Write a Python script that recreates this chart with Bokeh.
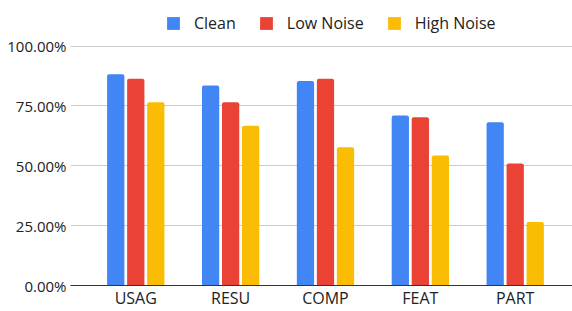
from bokeh.plotting import figure
from bokeh.models import (ColumnDataSource, Range1d, FixedTicker, NumeralTickFormatter,
                          Legend, LegendItem)
from bokeh.transform import dodge
from bokeh.embed import file_html
from bokeh.resources import INLINE

categories = ["USAG", "RESU", "COMP", "FEAT", "PART"]
clean = [0.882, 0.835, 0.854, 0.710, 0.682]
low_noise = [0.863, 0.765, 0.863, 0.703, 0.509]
high_noise = [0.765, 0.667, 0.577, 0.543, 0.265]
series_names = ["Clean", "Low Noise", "High Noise"]
colors = ["#4285F4", "#EA4335", "#FBBC04"]
y_ticks = [0, 0.25, 0.5, 0.75, 1.0]

idx = list(range(len(categories)))
src = ColumnDataSource(dict(x=idx, clean=clean, low=low_noise, high=high_noise))

# frame spans the full height; the empty band above 100% holds the legend
p = figure(width=572, height=311, output_backend="svg", toolbar_location=None,
           x_range=Range1d(-0.688, 4.604), y_range=Range1d(0, 1.19),
           min_border_left=70, min_border_right=0, min_border_top=0, min_border_bottom=20)
p.outline_line_color = None
p.background_fill_color = "white"

bw = 0.182
off = 0.211
renderers = []
for field, o, c in zip(["clean", "low", "high"], [-off, 0, off], colors):
    r = p.vbar(x=dodge("x", o, range=p.x_range), top=field, width=bw, source=src,
               fill_color=c, line_color=None, border_radius=(2, 2, 0, 0))
    renderers.append(r)

p.xaxis.ticker = FixedTicker(ticks=idx)
p.xaxis.major_label_overrides = {i: c for i, c in zip(idx, categories)}
p.xaxis.major_tick_line_color = None
p.xaxis.major_tick_out = 0
p.xaxis.major_tick_in = 0
p.xaxis.minor_tick_line_color = None
p.xaxis.axis_line_color = "#333333"
p.xaxis.major_label_text_font = "Open Sans"
p.xaxis.major_label_text_font_size = "16px"
p.xaxis.major_label_text_color = "#222222"
p.xaxis.major_label_standoff = 1
p.xgrid.grid_line_color = None

p.yaxis.ticker = FixedTicker(ticks=y_ticks)
p.yaxis.formatter = NumeralTickFormatter(format="0.00%")
p.yaxis.axis_line_color = None
p.yaxis.major_tick_line_color = None
p.yaxis.major_tick_out = 0
p.yaxis.major_tick_in = 0
p.yaxis.minor_tick_line_color = None
p.yaxis.major_label_text_font = "Open Sans"
p.yaxis.major_label_text_font_size = "15px"
p.yaxis.major_label_text_color = "#222222"
p.yaxis.major_label_standoff = 4
p.ygrid.ticker = FixedTicker(ticks=y_ticks)
p.ygrid.grid_line_color = "#cccccc"

legend = Legend(items=[LegendItem(label=n, renderers=[r]) for n, r in zip(series_names, renderers)],
                orientation="horizontal", location=(95, 251),
                glyph_width=16, glyph_height=16, label_height=16,
                label_standoff=13, spacing=22, padding=0, margin=0,
                border_line_color=None, background_fill_alpha=0,
                label_text_font="Open Sans", label_text_font_size="16px",
                label_text_color="#222222")
p.add_layout(legend, "center")

open("out.html", "w").write(file_html(p, INLINE))
